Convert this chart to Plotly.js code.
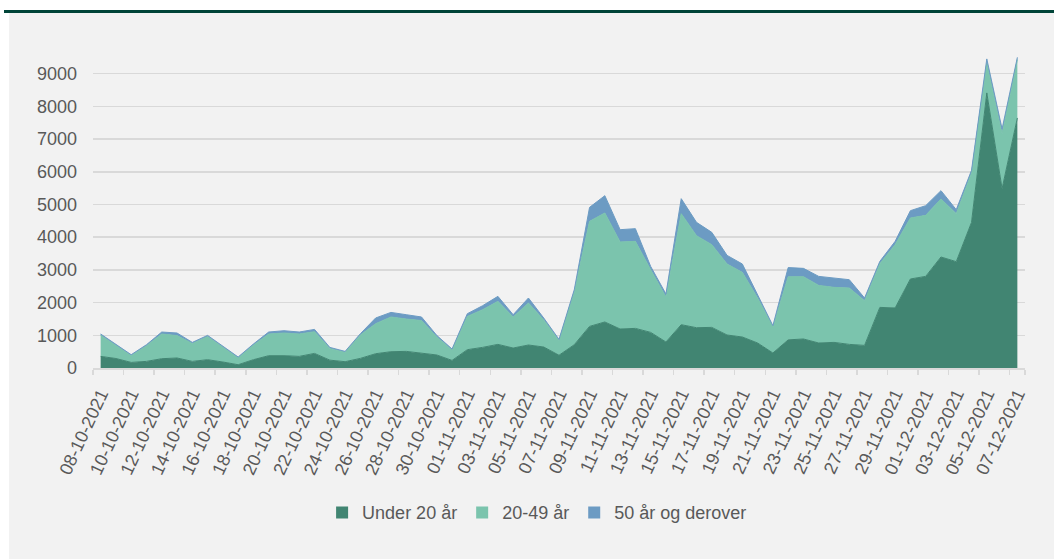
<!DOCTYPE html>
<html>
<head>
<meta charset="utf-8">
<script src="https://cdn.plot.ly/plotly-3.0.1.min.js"></script>
<style>
  html, body { margin: 0; padding: 0; background: #ffffff; width: 1054px; height: 559px; overflow: hidden; }
  #bar { position: absolute; left: 4px; top: 10px; width: 1050px; height: 3px; background: #004438; }
  #chart { position: absolute; left: 9px; top: 13px; width: 1045px; height: 546px; }
</style>
</head>
<body>
<div id="bar"></div>
<div id="chart"></div>
<script>
const dates = [
  "08-10-2021","09-10-2021","10-10-2021","11-10-2021","12-10-2021","13-10-2021","14-10-2021","15-10-2021",
  "16-10-2021","17-10-2021","18-10-2021","19-10-2021","20-10-2021","21-10-2021","22-10-2021","23-10-2021",
  "24-10-2021","25-10-2021","26-10-2021","27-10-2021","28-10-2021","29-10-2021","30-10-2021","31-10-2021",
  "01-11-2021","02-11-2021","03-11-2021","04-11-2021","05-11-2021","06-11-2021","07-11-2021","08-11-2021",
  "09-11-2021","10-11-2021","11-11-2021","12-11-2021","13-11-2021","14-11-2021","15-11-2021","16-11-2021",
  "17-11-2021","18-11-2021","19-11-2021","20-11-2021","21-11-2021","22-11-2021","23-11-2021","24-11-2021",
  "25-11-2021","26-11-2021","27-11-2021","28-11-2021","29-11-2021","30-11-2021","01-12-2021","02-12-2021",
  "03-12-2021","04-12-2021","05-12-2021","06-12-2021","07-12-2021"
];

const under20 = [355,290,171,202,284,306,202,254,183,100,254,376,376,355,446,240,193,294,437,498,508,446,398,232,
  560,630,722,611,703,642,390,712,1272,1407,1192,1211,1089,795,1324,1232,1242,1009,948,764,459,860,887,764,783,722,
  691,1853,1835,2722,2801,3394,3251,4453,8410,5483,7645];

const age20to49 = [645,390,209,478,756,684,548,706,447,210,446,664,694,685,664,360,287,716,918,1062,990,1004,552,318,
  1018,1153,1315,949,1285,828,450,1618,3212,3333,2661,2661,1917,1376,3395,2814,2529,2171,1976,1376,791,1930,1905,
  1762,1682,1724,1367,1337,1936,1865,1866,1774,1468,1510,896,1682,1783];

const age50plus = [40,32,27,32,60,80,33,37,31,26,34,60,70,60,70,30,28,39,174,140,132,110,47,30,82,122,153,70,152,59,
  35,64,427,529,376,388,101,92,458,407,376,263,256,101,44,280,254,275,275,254,82,70,101,223,296,254,122,80,144,144,70];

const seriesNames = ["Under 20 år", "20-49 år", "50 år og derover"];
const seriesColors = ["#418572", "#7bc4ad", "#6c9bc3"];
const seriesValues = [under20, age20to49, age50plus];

const yTicks = [0,1000,2000,3000,4000,5000,6000,7000,8000,9000];
const xTickLabels = dates.filter((d, i) => i % 2 === 0);

const traces = [];
seriesValues.forEach((vals, k) => {
  traces.push({
    type: "scatter",
    mode: "lines",
    x: dates,
    y: vals,
    stackgroup: "one",
    name: seriesNames[k],
    line: { color: seriesColors[k], width: 1 },
    fillcolor: seriesColors[k],
    showlegend: false,
    hoverinfo: "x+y+name"
  });
});
// legend entries (square swatches)
seriesNames.forEach((n, k) => {
  traces.push({
    type: "bar",
    x: [dates[0]],
    y: [null],
    name: n,
    marker: { color: seriesColors[k] },
    showlegend: true,
    hoverinfo: "skip"
  });
});

const tickFont = { family: "Liberation Sans, Arial, sans-serif", size: 18, color: "#595959" };

const layout = {
  width: 1045,
  height: 546,
  margin: { l: 84, r: 29, t: 41.4, b: 190.7, autoexpand: false },
  paper_bgcolor: "#f2f2f2",
  plot_bgcolor: "#f2f2f2",
  showlegend: true,
  legend: {
    orientation: "h",
    xref: "paper",
    x: 0.4765,
    xanchor: "center",
    yref: "paper",
    y: -0.461,
    yanchor: "middle",
    font: tickFont,
    traceorder: "normal",
    itemwidth: 30,
    bgcolor: "rgba(0,0,0,0)"
  },
  xaxis: {
    type: "category",
    range: [-0.5, 60.5],
    tickmode: "array",
    tickvals: xTickLabels,
    ticktext: xTickLabels,
    tickangle: -65,
    tickson: "boundaries",
    ticks: "outside",
    ticklen: 5,
    tickwidth: 1.5,
    tickcolor: "#d9d9d9",
    showline: true,
    linecolor: "#d9d9d9",
    linewidth: 1.5,
    showgrid: false,
    automargin: false,
    ticklabelstandoff: 7,
    tickfont: tickFont,
    fixedrange: true
  },
  yaxis: {
    range: [0, 9600],
    tickmode: "array",
    tickvals: yTicks,
    ticktext: yTicks.map(String),
    showgrid: true,
    gridcolor: "#d9d9d9",
    gridwidth: 1.5,
    zeroline: false,
    showline: false,
    ticks: "",
    automargin: false,
    tickfont: tickFont,
    ticklabelstandoff: 15,
    fixedrange: true
  }
};

Plotly.newPlot("chart", traces, layout, { displayModeBar: false, staticPlot: true });
</script>
</body>
</html>
